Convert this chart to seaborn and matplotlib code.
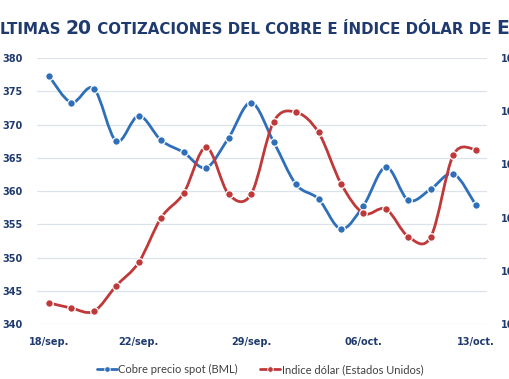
import numpy as np
import pandas as pd
import matplotlib
matplotlib.use('Agg')
import matplotlib.pyplot as plt
import seaborn as sns
from matplotlib.path import Path
from matplotlib.patches import PathPatch
from matplotlib.lines import Line2D

fechas = ['18/sep.', '19/sep.', '20/sep.', '21/sep.', '22/sep.',
          '25/sep.', '26/sep.', '27/sep.', '28/sep.', '29/sep.',
          '02/oct.', '03/oct.', '04/oct.', '05/oct.', '06/oct.',
          '09/oct.', '10/oct.', '11/oct.', '12/oct.', '13/oct.']
cobre = [377.3, 373.3, 375.4, 367.5, 371.3, 367.6, 365.8, 363.5, 368.0, 373.3,
         367.4, 361.0, 358.8, 354.3, 357.8, 363.6, 358.6, 360.3, 362.6, 357.9]
dolar = [105.70, 105.65, 105.62, 105.86, 106.08, 106.50, 106.73, 107.16, 106.72, 106.72,
         107.40, 107.49, 107.30, 106.82, 106.54, 106.58, 106.32, 106.32, 107.09, 107.14]
tick_fechas = ['18/sep.', '22/sep.', '29/sep.', '06/oct.', '13/oct.']

AZUL = '#2f6fba'
ROJO = '#c0393a'
NAVY = '#1f3a6e'

df = pd.DataFrame({'fecha': fechas, 'cobre': cobre, 'dolar': dolar})
df['x'] = np.arange(len(df))


def smooth_path(xs, ys):
    # Bezier segments (Catmull-Rom style, like Excel smoothed lines)
    p = np.column_stack([xs, ys]).astype(float)
    verts = [p[0]]
    codes = [Path.MOVETO]
    n = len(p)
    for i in range(n - 1):
        p0 = p[i - 1] if i > 0 else p[i]
        p1, p2 = p[i], p[i + 1]
        p3 = p[i + 2] if i + 2 < n else p[i + 1]
        verts += [p1 + (p2 - p0) / 6, p2 - (p3 - p1) / 6, p2]
        codes += [Path.CURVE4] * 3
    return Path(verts, codes)


sns.set_style('white')
plt.rcParams['font.family'] = ['DejaVu Sans']

fig = plt.figure(figsize=(5.1, 3.79), dpi=100)
ax = fig.add_axes([0.0725, 0.145, 0.8825, 0.702])
ax2 = ax.twinx()

ax.set_xlim(-0.53, 19.5)
ax.set_ylim(340, 380)
ax2.set_ylim(105.5, 108)
ax.set_yticks(np.arange(340, 381, 5))
ax2.set_yticks(np.arange(105.5, 108.01, 0.5))
ax.grid(axis='y', color='#dde3ea', linewidth=0.9)
ax.set_axisbelow(True)
for a in (ax, ax2):
    for s in a.spines.values():
        s.set_visible(False)

ax.add_patch(PathPatch(smooth_path(df['x'], df['cobre']), fill=False,
                       edgecolor=AZUL, linewidth=2.0, zorder=3))
ax2.add_patch(PathPatch(smooth_path(df['x'], df['dolar']), fill=False,
                        edgecolor=ROJO, linewidth=2.0, zorder=3))
sns.scatterplot(data=df, x='x', y='cobre', ax=ax, color=AZUL, s=30,
                edgecolor='white', linewidth=0.9, zorder=4, legend=False)
sns.scatterplot(data=df, x='x', y='dolar', ax=ax2, color=ROJO, s=30,
                edgecolor='white', linewidth=0.9, zorder=4, legend=False)

tick_pos = [fechas.index(t) for t in tick_fechas]
ax.set_xticks(tick_pos)
ax.set_xticklabels(tick_fechas)
ax.set_xlabel('')
ax.set_ylabel('')
ax2.set_ylabel('')
ax.tick_params(axis='x', length=0, pad=9, labelsize=7, labelcolor=NAVY)
ax.tick_params(axis='y', length=0, pad=10, labelsize=7, labelcolor=NAVY)
ax2.tick_params(axis='y', length=0, pad=10, labelsize=7, labelcolor=NAVY)
for lab in ax.get_xticklabels() + ax.get_yticklabels():
    lab.set_fontweight('bold')
# right axis labels run off the right edge, as in the reference
ax2.set_yticklabels([f'{v:.1f}'.replace('.', ',') for v in ax2.get_yticks()],
                    fontweight='bold')

# legend
handles = [Line2D([], [], color=AZUL, lw=2, marker='o', ms=4, mec='white', mew=0.6),
           Line2D([], [], color=ROJO, lw=2, marker='o', ms=4, mec='white', mew=0.6)]
fig.legend(handles, ['Cobre precio spot (BML)', 'Indice dólar (Estados Unidos)'],
           loc='center', bbox_to_anchor=(0.51, 0.025), ncol=2, frameon=False,
           prop={'family': 'Lato', 'size': 8}, labelcolor='#404040',
           handlelength=1.8, handletextpad=0.15, columnspacing=2.0)

# title in small caps, cropped at both sides like the reference
partes = [('Ú', 13.5), ('LTIMAS ', 10.8), ('20', 13.5), (' COTIZACIONES DEL COBRE E ÍNDICE DÓLAR DE ', 10.8),
          ('E', 13.5), ('E.UU.', 10.8)]
fig.canvas.draw()
r = fig.canvas.get_renderer()
y_base = 1 - 34 / 379
fig.text(0, y_base, partes[0][0], fontsize=partes[0][1], fontweight='bold',
         color=NAVY, ha='right', va='baseline')
x = 0.0
for txt, fs in partes[1:]:
    t = fig.text(x, y_base, txt, fontsize=fs, fontweight='bold', color=NAVY,
                 ha='left', va='baseline')
    bb = t.get_window_extent(renderer=r)
    x = bb.x1 / fig.bbox.width

fig.savefig('out.png', dpi=100)
